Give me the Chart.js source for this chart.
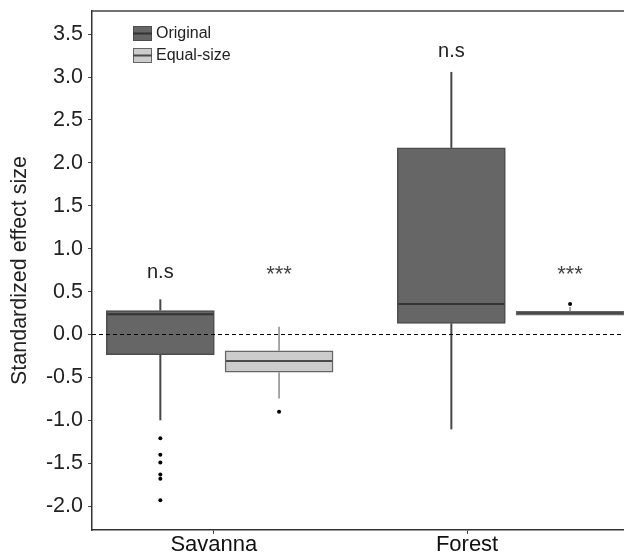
<!DOCTYPE html>
<html><head><meta charset="utf-8">
<script src="https://cdn.jsdelivr.net/npm/chart.js@4.4.1/dist/chart.umd.min.js"></script>
<style>html,body{margin:0;padding:0;background:#fff;overflow:hidden;width:624px;height:555px}canvas{display:block}</style>
</head><body>
<canvas id="c" width="628" height="555"></canvas>
<script>
// ---- data ----
const categories = ['Savanna', 'Forest'];
const seriesNames = ['Original', 'Equal-size'];
const originalLow = [-1.00, -1.105];
const originalQ1 = [-0.235, 0.13];
const originalMedian = [0.235, 0.355];
const originalQ3 = [0.28, 2.175];
const originalHigh = [0.41, 3.06];
const originalOutliers = [[-1.21, -1.40, -1.49, -1.63, -1.68, -1.93], []];
const equalLow = [-0.745, 0.225];
const equalQ1 = [-0.44, 0.225];
const equalMedian = [-0.31, 0.25];
const equalQ3 = [-0.19, 0.27];
const equalHigh = [0.09, 0.32];
const equalOutliers = [[-0.90], [0.355]];
const originalSig = ['n.s', 'n.s'];
const equalSig = ['***', '***'];
const originalSigAt = [0.66, 3.23];
const equalSigAt = [0.62, 0.62];
const yTickValues = [-2.0, -1.5, -1.0, -0.5, 0.0, 0.5, 1.0, 1.5, 2.0, 2.5, 3.0, 3.5];
const yTitle = 'Standardized effect size';

// ---- layout ----
const groupPos = [1, 2];
const dodge = [-0.204, 0.204];
const xTickPos = [0.98, 1.85];
const FONT = "'Liberation Sans', Arial, sans-serif";
const styles = [
  {fill: '#666666', border: '#4d4d4d', median: '#333333', whisker: '#474747', wWidth: 2, sigColor: '#222', sigSize: 20},
  {fill: '#cccccc', border: '#666666', median: '#4a4a4a', whisker: '#8a8a8a', wWidth: 1.5, sigColor: '#444', sigSize: 22}
];
const stats = [
  {low: originalLow, q1: originalQ1, med: originalMedian, q3: originalQ3, high: originalHigh, out: originalOutliers, sig: originalSig, sigAt: originalSigAt},
  {low: equalLow, q1: equalQ1, med: equalMedian, q3: equalQ3, high: equalHigh, out: equalOutliers, sig: equalSig, sigAt: equalSigAt}
];

const boxData = s => categories.map((c, i) => ({x: groupPos[i] + dodge[s], y: [stats[s].q1[i], stats[s].q3[i]]}));
const outData = s => stats[s].out.flatMap((arr, i) => arr.map(v => ({x: groupPos[i] + dodge[s], y: v})));

function line(ctx, x1, y1, x2, y2) { ctx.beginPath(); ctx.moveTo(x1, y1); ctx.lineTo(x2, y2); ctx.stroke(); }

const boxPlugin = {
  id: 'boxExtras',
  afterDatasetsDraw(chart) {
    const ctx = chart.ctx, ys = chart.scales.y, ca = chart.chartArea;
    stats.forEach((s, si) => {
      const st = styles[si];
      const meta = chart.getDatasetMeta(si);
      meta.data.forEach((bar, i) => {
        const {x, width} = bar.getProps(['x', 'width'], true);
        const half = width / 2;
        ctx.save();
        ctx.strokeStyle = st.whisker; ctx.lineWidth = st.wWidth;
        if (s.high[i] > s.q3[i]) line(ctx, x, ys.getPixelForValue(s.q3[i]), x, ys.getPixelForValue(s.high[i]));
        if (s.low[i] < s.q1[i]) line(ctx, x, ys.getPixelForValue(s.q1[i]), x, ys.getPixelForValue(s.low[i]));
        ctx.strokeStyle = st.median; ctx.lineWidth = 2;
        const my = ys.getPixelForValue(s.med[i]);
        line(ctx, x - half + 1, my, x + half - 1, my);
        ctx.fillStyle = st.sigColor;
        ctx.font = st.sigSize + 'px ' + FONT;
        ctx.textAlign = 'center'; ctx.textBaseline = 'alphabetic';
        ctx.fillText(s.sig[i], x, ys.getPixelForValue(s.sigAt[i]));
        ctx.restore();
      });
    });
    // zero reference line
    ctx.save();
    const y0 = ys.getPixelForValue(0);
    ctx.strokeStyle = '#000'; ctx.lineWidth = 1; ctx.setLineDash([4, 3]);
    line(ctx, ca.left, y0, ca.right, y0);
    ctx.setLineDash([]);
    // top border
    ctx.strokeStyle = '#444'; ctx.lineWidth = 1.5;
    line(ctx, ca.left, ca.top, ca.right, ca.top);
    // legend
    seriesNames.forEach((name, si) => {
      const st = styles[si];
      const kx = ca.left + 41, ky = ca.top + 15 + si * 22, kw = 19, kh = 15;
      ctx.fillStyle = st.fill; ctx.fillRect(kx, ky, kw, kh);
      ctx.strokeStyle = st.border; ctx.lineWidth = 1; ctx.strokeRect(kx + 0.5, ky + 0.5, kw - 1, kh - 1);
      ctx.strokeStyle = st.median; ctx.lineWidth = 2; line(ctx, kx, ky + kh / 2, kx + kw, ky + kh / 2);
      ctx.fillStyle = '#222'; ctx.font = '16px ' + FONT; ctx.textAlign = 'left'; ctx.textBaseline = 'alphabetic';
      ctx.fillText(name, kx + 23, ky + 12);
    });
    ctx.restore();
  }
};

new Chart(document.getElementById('c'), {
  type: 'bar',
  data: {
    datasets: [
      {label: seriesNames[0], data: boxData(0), backgroundColor: styles[0].fill, borderColor: styles[0].border, borderWidth: 1.5, borderSkipped: false, grouped: false, barThickness: 108, order: 2},
      {label: seriesNames[1], data: boxData(1), backgroundColor: styles[1].fill, borderColor: styles[1].border, borderWidth: 1.5, borderSkipped: false, grouped: false, barThickness: 108, order: 2},
      {type: 'scatter', label: seriesNames[0] + ' outliers', data: outData(0), backgroundColor: '#000', borderWidth: 0, pointRadius: 2, order: 1},
      {type: 'scatter', label: seriesNames[1] + ' outliers', data: outData(1), backgroundColor: '#000', borderWidth: 0, pointRadius: 2, order: 1}
    ]
  },
  options: {
    responsive: false, animation: false, devicePixelRatio: 1,
    layout: {padding: {top: 11, left: 0, right: 0, bottom: 0}},
    plugins: {legend: {display: false}, tooltip: {enabled: false}},
    events: [],
    scales: {
      x: {
        type: 'linear', min: 0.5612, max: 2.3893, offset: false,
        afterBuildTicks: ax => { ax.ticks = xTickPos.map(v => ({value: v})); },
        afterFit: ax => { ax.height = 25; ax.paddingLeft = 0; ax.paddingRight = 0; },
        ticks: {autoSkip: false, maxRotation: 0, padding: -2, color: '#111', font: {family: FONT, size: 22},
          callback: (v, i) => categories[i]},
        grid: {display: true, drawOnChartArea: false, drawTicks: true, tickLength: 4, color: '#444', offset: false},
        border: {display: true, color: '#333', width: 1.5}
      },
      y: {
        type: 'linear', min: -2.278, max: 3.77,
        afterBuildTicks: ax => { ax.ticks = yTickValues.map(v => ({value: v})); },
        afterFit: ax => { ax.width = 92; ax.paddingTop = 0; ax.paddingBottom = 0; },
        ticks: {padding: 5, color: '#222', font: {family: FONT, size: 21.5}, callback: v => v.toFixed(1)},
        grid: {display: true, drawOnChartArea: false, drawTicks: true, tickLength: 4, color: '#444'},
        border: {display: true, color: '#333', width: 1.5},
        title: {display: true, text: yTitle, color: '#222', font: {family: FONT, size: 21.5}, padding: {top: 7.5, bottom: 0}}
      }
    }
  },
  plugins: [boxPlugin]
});
</script>
</body></html>
